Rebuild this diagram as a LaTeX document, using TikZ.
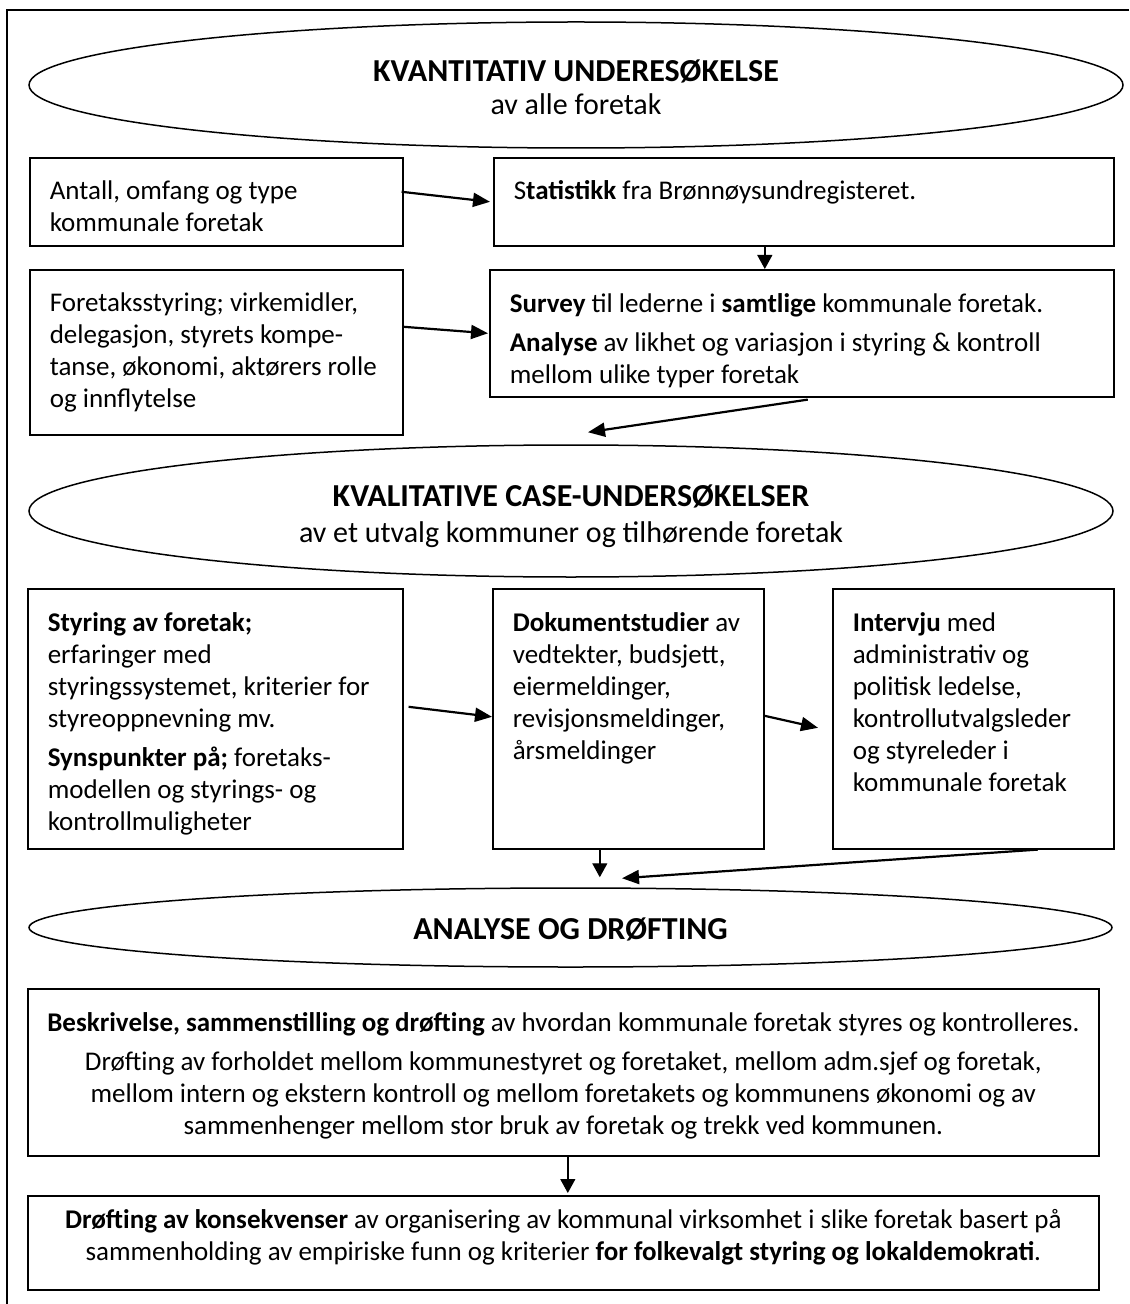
\documentclass[tikz,border=0pt]{standalone}
\usepackage{fontspec}
\setmainfont{Carlito}
\usetikzlibrary{arrows.meta,shapes.geometric}

% text inside a box: width, height, first baseline, text
\newcommand{\boxtext}[4]{\parbox[t][#2][t]{#1}{\fontsize{13.5}{16}\selectfont\setlength{\parskip}{3.5pt}\rule{0pt}{#3}#4}}
% ellipse texts
\newcommand{\ovaltitle}{\fontsize{16}{16.5}\selectfont\bfseries}
\newcommand{\ovalsub}{\fontsize{15}{16.5}\selectfont}

\tikzset{
  box/.style={draw, line width=0.8pt, anchor=north west, inner xsep=10pt, inner ysep=0pt},
  oval/.style={draw, ellipse, line width=0.75pt, inner sep=0pt, align=center, font=\fontsize{16}{16.5}\selectfont},
  arr/.style={-{Triangle[length=8.5pt,width=7pt]}, line width=1.1pt},
  varr/.style={-{Triangle[length=7pt,width=7.5pt]}, line width=0.7pt}
}

\begin{document}
\begin{tikzpicture}[x=0.5pt, y=-0.5pt]
                    \useasboundingbox (0,0) rectangle (1129,1304);
                    % Frame
                    \draw[line width=0.8pt] (1129,10) -- (7,10) -- (7,1304);
                    % Quantitative part
                    \node[oval, minimum width=547pt, minimum height=63pt] (kvant) at (576,85)
                        {\rule{0pt}{17.5pt}\ovaltitle KVANTITATIV UNDERESØKELSE\\ \ovalsub av alle foretak\rule[-4pt]{0pt}{0pt}};
                    \node[box] (antall) at (29,157) {\boxtext{166.5pt}{44pt}{21pt}{Antall, omfang og type\\ kommunale foretak}};
                    \node[box] (stat) at (493,157) {\boxtext{290pt}{44pt}{21pt}{S\textbf{tatistikk} fra Brønnøysundregisteret.}};
                    \node[box] (styring) at (29,269) {\boxtext{166.5pt}{82.5pt}{21pt}{Foretaksstyring; virkemidler,\\ delegasjon, styrets kompe-\\ tanse, økonomi, aktørers rolle\\ og innflytelse}};
                    \node[box] (survey) at (489,269) {\boxtext{292pt}{63.5pt}{21.5pt}{\textbf{Survey} til lederne i \textbf{samtlige} kommunale foretak.\par \textbf{Analyse} av likhet og variasjon i styring \& kontroll\\ mellom ulike typer foretak}};
                    \draw[arr] ([xshift=-1pt, yshift=5pt]antall.east) -- ([xshift=-1.5pt]stat.west);
                    \draw[arr] ([yshift=12.75pt]styring.east) -- ([xshift=-0.5pt]survey.west);
                    \draw[varr] ([xshift=-19.5pt]stat.south) -- ([xshift=-19.5pt]stat.south |- survey.north);
                    % Qualitative part
                    \node[oval, minimum width=542pt, minimum height=66pt] (kval) at (571,511)
                        {\rule{0pt}{17pt}\ovaltitle KVALITATIVE CASE-UNDERSØKELSER\\[1.5pt] \ovalsub av et utvalg kommuner og tilhørende foretak\rule[-4pt]{0pt}{0pt}};
                    \draw[arr] ([xshift=3pt, yshift=-1pt]survey.south) -- ([xshift=8.5pt, yshift=6pt]kval.north);
                    \node[box] (foretak) at (27,588) {\boxtext{167.5pt}{130pt}{21.5pt}{\textbf{Styring av foretak;}\\ erfaringer med\\ styringssystemet, kriterier for\\ styreoppnevning mv.\par \textbf{Synspunkter på;} foretaks-\\ modellen og styrings- og\\ kontrollmuligheter}};
                    \node[box] (dok) at (492,588) {\boxtext{115.5pt}{130pt}{21.5pt}{\textbf{Dokumentstudier} av\\ vedtekter, budsjett,\\ eiermeldinger,\\ revisjonsmeldinger,\\ årsmeldinger}};
                    \node[box] (intervju) at (832,588) {\boxtext{120.5pt}{130pt}{21.5pt}{\textbf{Intervju} med\\ administrativ og\\ politisk ledelse,\\ kontrollutvalgsleder\\ og styreleder i\\ kommunale foretak}};
                    \draw[arr] ([xshift=2.5pt, yshift=6pt]foretak.east) -- ([yshift=1pt]dok.west);
                    \draw[arr] ([yshift=1.5pt]dok.east) -- ([xshift=-7pt, yshift=-4.5pt]intervju.west);
                    % Analysis
                    \node[oval, minimum width=541.5pt, minimum height=39.5pt] (analyse) at (570.5,927.5)
                        {\rule{0pt}{15.5pt}\ovaltitle ANALYSE OG DRØFTING\rule[-4pt]{0pt}{0pt}};
                    \draw[varr] ([xshift=-14.25pt]dok.south) -- ([xshift=-14.25pt, yshift=5pt]dok.south |- analyse.north);
                    \draw[arr] ([xshift=32.25pt]intervju.south) -- ([xshift=25.75pt, yshift=4.5pt]analyse.north);
                    \node[box, inner xsep=2pt] (beskr) at (27,988) {\boxtext{531.5pt}{83.5pt}{21.5pt}{\centering\textbf{Beskrivelse, sammenstilling og drøfting} av hvordan kommunale foretak styres og kontrolleres.\par Drøfting av forholdet mellom kommunestyret og foretaket, mellom adm.sjef og foretak,\\ mellom intern og ekstern kontroll og mellom foretakets og kommunens økonomi og av\\ sammenhenger mellom stor bruk av foretak og trekk ved kommunen.}};
                    \node[box, inner xsep=2pt] (konsek) at (27,1195) {\boxtext{531.5pt}{47pt}{16.5pt}{\centering\textbf{Drøfting av konsekvenser} av organisering av kommunal virksomhet i slike foretak basert på\\ sammenholding av empiriske funn og kriterier \textbf{for folkevalgt styring og lokaldemokrati}.}};
                    \draw[varr] ([xshift=2.25pt]beskr.south) -- ([xshift=2.25pt, yshift=1pt]konsek.north);
                \end{tikzpicture}
\end{document}
